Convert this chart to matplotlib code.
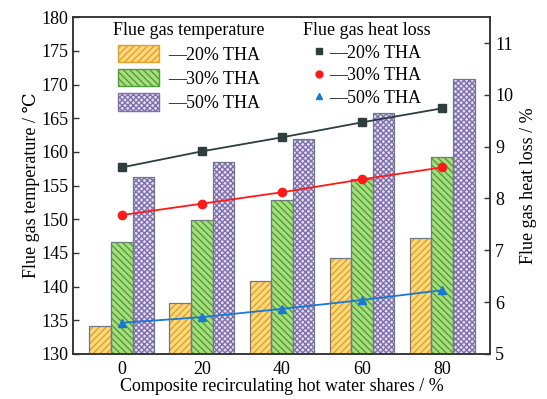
import numpy as np
import matplotlib
matplotlib.use("Agg")
from matplotlib import pyplot as plt
from matplotlib.patches import Patch
from matplotlib.lines import Line2D

plt.rcParams['font.family'] = ['Liberation Serif', 'DejaVu Serif']

shares = ['0', '20', '40', '60', '80']
series = ['20% THA', '30% THA', '50% THA']

# flue gas temperature (left axis, C)
temp_20 = [134.1, 137.6, 140.9, 144.2, 147.2]
temp_30 = [146.6, 149.9, 152.9, 156.0, 159.2]
temp_50 = [156.2, 158.5, 161.9, 165.7, 170.8]

# flue gas heat loss (right axis, %)
loss_20 = [8.60, 8.91, 9.18, 9.47, 9.74]
loss_30 = [7.68, 7.90, 8.12, 8.37, 8.60]
loss_50 = [5.60, 5.71, 5.87, 6.04, 6.23]

bar_fill = ['#FFD97A', '#A9DE7C', '#E4DCF3']
bar_hatch_col = ['#E0A030', '#4E9E3A', '#7E70A8']
hatches = ['/////', '\\\\\\\\\\', 'xxxxxx']
line_col = ['#2E3D3D', '#FF1A1A', '#1878D2']
markers = ['s', 'o', '^']

fig = plt.figure(figsize=(5.47, 3.99), dpi=100)
ax = fig.add_axes([0.1335, 0.113, 0.7625, 0.844])
ax2 = ax.twinx()

x = np.arange(len(shares))
w = 0.27
for i, vals in enumerate([temp_20, temp_30, temp_50]):
    pos = x + (i - 1) * w
    ax.bar(pos, np.array(vals) - 130, w, bottom=130, color=bar_fill[i],
           hatch=hatches[i], edgecolor=bar_hatch_col[i], linewidth=0, zorder=2)
    ax.bar(pos, np.array(vals) - 130, w, bottom=130, facecolor='none',
           edgecolor='#707880', linewidth=0.9, zorder=3)

for i, vals in enumerate([loss_20, loss_30, loss_50]):
    ax2.plot(x, vals, color=line_col[i], marker=markers[i], markersize=6,
             linewidth=1.3, zorder=4)

ax.set_xlim(-0.61, 4.6)
ax.set_ylim(130, 180)
ax.set_yticks(np.arange(130, 181, 5))
ax2.set_ylim(5, 11.5)
ax2.set_yticks(np.arange(5, 12, 1))
ax.set_xticks(x)
ax.set_xticklabels(shares)

for a in (ax, ax2):
    a.tick_params(direction='in', labelsize=13, length=4, width=1, color='#333333')
    for s in a.spines.values():
        s.set_linewidth(1.1)
        s.set_color('#333333')
ax.tick_params(axis='x', pad=5)
ax.set_zorder(ax2.get_zorder() - 1)
ax.patch.set_visible(False)

ax.set_xlabel('Composite recirculating hot water shares / %', fontsize=13, labelpad=0)
ax.set_ylabel('Flue gas temperature / \u2103', fontsize=13, labelpad=1)
ax2.set_ylabel('Flue gas heat loss / %', fontsize=13, labelpad=5)

bar_handles = [Patch(facecolor=bar_fill[i], edgecolor=bar_hatch_col[i], hatch=hatches[i])
               for i in range(3)]
leg1 = ax2.legend(bar_handles, ['\u2014' + s for s in series], title='Flue gas temperature',
                  loc='upper left', bbox_to_anchor=(0.066, 1.022), frameon=False,
                  fontsize=13, title_fontsize=13, handlelength=2.3, handleheight=1.1,
                  handletextpad=0.5, labelspacing=0.3, borderpad=0.2)
ax2.add_artist(leg1)

line_handles = [Line2D([], [], color=line_col[i], marker=markers[i], linestyle='none',
                       markersize=5) for i in range(3)]
ax2.legend(line_handles, ['\u2014' + s for s in series], title='Flue gas heat loss',
           loc='upper left', bbox_to_anchor=(0.52, 1.022), frameon=False,
           fontsize=13, title_fontsize=13, handlelength=0.8, handletextpad=0.2,
           labelspacing=0.3, borderpad=0.2)

fig.savefig('out.png', dpi=100)
